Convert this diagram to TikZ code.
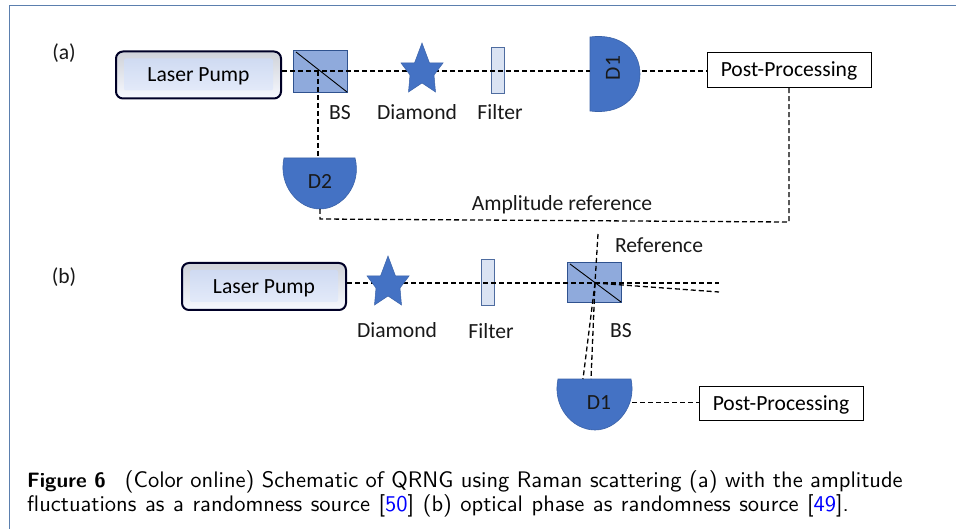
\documentclass[tikz,border=0pt]{standalone}
\usepackage{fontspec}
\setmainfont{Carlito}
\setsansfont{lmsans10-regular.otf}[BoldFont=lmsans10-bold.otf]
\usetikzlibrary{shapes.geometric}
\definecolor{det}{HTML}{4472C4}
\definecolor{detline}{HTML}{3A62A8}
\definecolor{bsfill}{HTML}{8FAADC}
\definecolor{bsline}{HTML}{2F528F}
\definecolor{filt}{HTML}{DAE3F3}
\definecolor{framec}{HTML}{5B7FAE}
\definecolor{pumpa}{HTML}{CBD7F0}
\definecolor{pumpb}{HTML}{E8EEFB}
\definecolor{bevtop}{HTML}{CFD2D9}
\definecolor{bevbot}{HTML}{F7F9FF}
\newcommand{\tallstar}[1]{\draw[fill=det,draw=detline,line width=.5pt,shift={(#1)}]
  (0,0) -- (7.5,20) -- (21,20) -- (12,32) -- (13.5,49) -- (0,40) -- (-13.5,49) -- (-12,32) -- (-21,20) -- (-7.5,20) -- cycle;}
\tikzset{
 x=1pt,y=-1pt,
 lbl/.style={font=\fontsize{21.6}{24}\selectfont,inner sep=0pt,text=black!90},
 beam/.style={draw=black,line width=1.3pt,dash pattern=on 5pt off 3pt},
 pump/.style={rectangle,rounded corners=7pt,draw=black!85!blue,line width=2pt,minimum width=165pt,minimum height=47pt,inner sep=0pt,text depth=0pt,
   top color=bevtop,bottom color=bevbot,font=\fontsize{21.6}{24}\selectfont,
   path picture={\shade[top color=pumpa,bottom color=pumpb,rounded corners=2pt]
     ([xshift=8pt,yshift=-7pt]path picture bounding box.north west) rectangle ([xshift=-8pt,yshift=8pt]path picture bounding box.south east);}},
 post/.style={rectangle,draw=black,line width=.8pt,fill=white,minimum width=164pt,minimum height=35pt,inner sep=0pt,text depth=0pt,font=\fontsize{21.6}{24}\selectfont},
 bscube/.style={rectangle,draw=bsline,line width=.8pt,fill=bsfill,minimum width=54pt,inner sep=0pt},
 filter/.style={rectangle,draw=bsline!85,line width=1pt,fill=filt,minimum width=13pt,minimum height=46pt,inner sep=0pt},
 detshape/.style={fill=det,draw=detline,line width=.6pt},
 captext/.style={anchor=base west,inner sep=0pt,font=\sffamily\fontsize{22.5}{24}\selectfont},
}
\begin{document}
\begin{tikzpicture}
\useasboundingbox (0,0) rectangle (956,529);
\fill[white] (0,0) rectangle (956,529);
\draw[framec,line width=1.2pt] (956,5.5) -- (9.5,5.5) -- (9.5,529);
% ---- (a)
\node[lbl] (la) at (64,53) {(a)};
\node[pump] (pumpa) at (198.5,75) {Laser Pump};
\node[bscube,minimum height=42pt] (bsa) at (320,71) {};
\coordinate (bsac) at (318,71);
\draw[black,line width=.9pt] (296,52) -- (347,92);
\node[filter] (filta) at (497.5,71) {};
\draw[detshape] (590,37) .. controls (620,33) and (640,50) .. (640,74) .. controls (640,98) and (620,115) .. (590,111) -- cycle;
\coordinate (d1aw) at (590,71);
\coordinate (d1ae) at (642,71);
\node[post] (ppa) at (789,69.5) {Post-Processing};
\draw[detshape] (284,158) .. controls (278,185) and (298,209) .. (320,209) .. controls (342,209) and (362,185) .. (355,158) -- cycle;
\coordinate (d2at) at (318,158);
\coordinate (d2ab) at (320,209);
\coordinate (elbow) at (789,222);
\coordinate (ppadrop) at (789,87);
\draw[beam] (pumpa.east |- bsac) -- (bsac) -- (d1aw);
\draw[beam] (bsac) -- (d2at);
\draw[beam] (d1ae) -- (ppa.west |- d1ae);
\draw[beam] (d2ab) -- (320,219) -- (elbow) -- (ppadrop);
\tallstar{422,43}
\node[lbl] (bsla) at (340,113) {BS};
\node[lbl] (dia) at (417,112) {Diamond};
\node[lbl] (fla) at (500,112) {Filter};
\node[lbl,rotate=90] (d1la) at (613,68) {D1};
\node[lbl] (d2la) at (320,181) {D2};
\node[lbl] (ampl) at (562,205) {Amplitude reference};
% ---- (b)
\node[lbl] (lb) at (64,277) {(b)};
\node[pump,minimum width=164pt] (pumpb) at (264,286.5) {Laser Pump};
\node[bscube,minimum height=40pt] (bsb) at (594,282) {};
\coordinate (bsbc) at (595,283);
\draw[black,line width=.9pt] (570,264) -- (621,302);
\node[filter] (filtb) at (487.5,282.5) {};
\draw[detshape] (558,379) .. controls (552,406) and (572,430) .. (595,430) .. controls (617,430) and (637,406) .. (631,379) -- cycle;
\coordinate (d1bl) at (583,379);
\coordinate (d1br) at (591,379);
\coordinate (d1be) at (632,402.5);
\node[post,minimum height=34pt] (ppb) at (781,403) {Post-Processing};
\coordinate (outa) at (719,283);
\coordinate (outb) at (719,292);
\coordinate (reft) at (598,234);
\draw[beam] (pumpb.east |- bsbc) -- (bsbc) -- (outa);
\draw[beam] (bsbc) -- (outb);
\draw[beam] (reft) -- (bsbc);
\draw[beam] (bsbc) -- (d1bl);
\draw[beam] (bsbc) -- (d1br);
\draw[beam] (d1be) -- (ppb.west |- d1be);
\tallstar{388,256}
\node[lbl] (dib) at (397,330) {Diamond};
\node[lbl] (flb) at (491,331) {Filter};
\node[lbl] (bslb) at (621,331) {BS};
\node[lbl] (refl) at (659,245) {Reference};
\node[lbl] (d1lb) at (599,403) {D1};
% ---- caption
\node[captext] (c1) at (27,487) {{\fontsize{20.8}{24}\selectfont\textbf{Figure 6}}\hspace{0.85em}(Color online) Schematic of QRNG using Raman scattering (a) with the amplitude};
\node[captext] (c2) at (27,511) {\spaceskip=8.6pt fluctuations as a randomness source [\textcolor{blue}{50}] (b) optical phase as randomness source [\textcolor{blue}{49}].};
\end{tikzpicture}
\end{document}
